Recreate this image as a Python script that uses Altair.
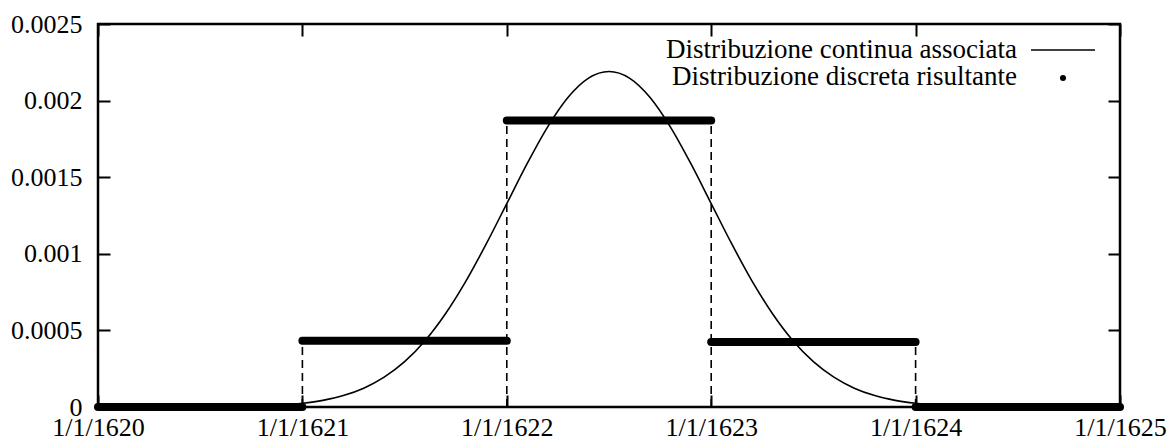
import altair as alt
import pandas as pd

# ---- data ----
years = [1620.0, 1620.1, 1620.2, 1620.3, 1620.4, 1620.5, 1620.6, 1620.7, 1620.8, 1620.9,
         1621.0, 1621.1, 1621.2, 1621.3, 1621.4, 1621.5, 1621.6, 1621.7, 1621.8, 1621.9,
         1622.0, 1622.1, 1622.2, 1622.3, 1622.4, 1622.5, 1622.6, 1622.7, 1622.8, 1622.9,
         1623.0, 1623.1, 1623.2, 1623.3, 1623.4, 1623.5, 1623.6, 1623.7, 1623.8, 1623.9,
         1624.0, 1624.1, 1624.2, 1624.3, 1624.4, 1624.5, 1624.6, 1624.7, 1624.8, 1624.9,
         1625.0]
density = [0.0, 0.0, 0.0, 0.0, 0.0, 0.0000007, 0.0000014, 0.0000031, 0.0000065, 0.0000128,
           0.0000243, 0.0000434, 0.0000745, 0.000123, 0.000195, 0.000296, 0.000433, 0.000609, 0.000822, 0.001066,
           0.001328, 0.001590, 0.001829, 0.002022, 0.002147, 0.00219, 0.002147, 0.002022, 0.001829, 0.001590,
           0.001328, 0.001066, 0.000822, 0.000609, 0.000433, 0.000296, 0.000195, 0.000123, 0.0000745, 0.0000434,
           0.0000243, 0.0000128, 0.0000065, 0.0000031, 0.0000014, 0.0000007, 0.0, 0.0, 0.0, 0.0,
           0.0]

seg_start = [1620, 1621, 1622, 1623, 1624]
seg_end = [1621, 1622, 1623, 1624, 1625]
seg_level = [0.0, 0.000432, 0.00187, 0.000425, 0.0]

edge_year = [1621, 1622, 1623, 1624]
edge_top = [0.000432, 0.00187, 0.00187, 0.000425]

x_ticks = [1620, 1621, 1622, 1623, 1624, 1625]
y_ticks = [0, 0.0005, 0.001, 0.0015, 0.002, 0.0025]

legend_labels = ["Distribuzione continua associata", "Distribuzione discreta risultante"]

FONT = "Liberation Serif"
FS = 26
LFS = 27

cont = pd.DataFrame({"year": years, "density": density})
disc = pd.DataFrame({"start": seg_start, "end": seg_end, "level": seg_level})
edges = pd.DataFrame({"year": edge_year, "top": edge_top, "zero": [0.0] * len(edge_year)})

xscale = alt.Scale(domain=[1620, 1625], nice=False, zero=False)
yscale = alt.Scale(domain=[0, 0.0025], nice=False)

ax_common = dict(domain=False, grid=False, tickSize=12, tickWidth=2, tickColor="black",
                 offset=-12, labelFont=FONT, labelFontSize=FS, labelColor="black",
                 title=None, labelOverlap=False, labelFlush=False, labelBound=False)

x_bottom = alt.Axis(orient="bottom", values=x_ticks, labelExpr="'1/1/' + datum.value",
                    labelPadding=28, labelAlign="center", labelBaseline="alphabetic", **ax_common)
y_left = alt.Axis(orient="left", values=y_ticks, labelExpr="'' + datum.value",
                  labelPadding=16, labelAlign="right", labelBaseline="middle", **ax_common)
x_top = alt.Axis(orient="top", values=x_ticks, labels=False, **ax_common)
y_right = alt.Axis(orient="right", values=y_ticks, labels=False, **ax_common)

curve = alt.Chart(cont).mark_line(color="black", strokeWidth=1.6, interpolate="monotone").encode(
    x=alt.X("year:Q", scale=xscale, axis=x_bottom),
    y=alt.Y("density:Q", scale=yscale, axis=y_left),
)

dashes = alt.Chart(edges).mark_rule(color="black", strokeWidth=1.6, strokeDash=[8, 5]).encode(
    x=alt.X("year:Q", scale=xscale, axis=x_top),
    y=alt.Y("zero:Q", scale=yscale, axis=y_right),
    y2="top:Q",
)

bars = alt.Chart(disc).mark_rule(color="black", strokeWidth=8, strokeCap="round").encode(
    x=alt.X("start:Q", scale=xscale, axis=None),
    x2="end:Q",
    y=alt.Y("level:Q", scale=yscale, axis=None),
)

leg1 = pd.DataFrame({"label": [legend_labels[0]]})
leg2 = pd.DataFrame({"label": [legend_labels[1]]})
leg_text1 = alt.Chart(leg1).mark_text(font=FONT, fontSize=LFS, align="right", baseline="alphabetic",
                                      color="black").encode(
    text="label:N", x=alt.value(919), y=alt.value(34))
leg_text2 = alt.Chart(leg2).mark_text(font=FONT, fontSize=LFS, align="right", baseline="alphabetic",
                                      color="black").encode(
    text="label:N", x=alt.value(919), y=alt.value(61))
leg_line = alt.Chart(leg1).mark_rule(color="black", strokeWidth=1.6).encode(
    x=alt.value(933), x2=alt.value(997), y=alt.value(26))
leg_dot = alt.Chart(leg2).mark_point(color="black", filled=True, opacity=1, size=36,
                                     shape="circle").encode(
    x=alt.value(965), y=alt.value(54))

chart = alt.layer(curve, dashes, bars, leg_text1, leg_text2, leg_line, leg_dot).resolve_axis(
    x="independent", y="independent"
).resolve_scale(y="independent").properties(
    width=1022, height=383,
    autosize=alt.AutoSizeParams(type="none"),
    padding={"left": 90, "top": 16, "right": 48, "bottom": 31},
).configure_view(stroke="black", strokeWidth=2.5)

chart.save("out.html", embed_options={"renderer": "svg", "actions": False})
